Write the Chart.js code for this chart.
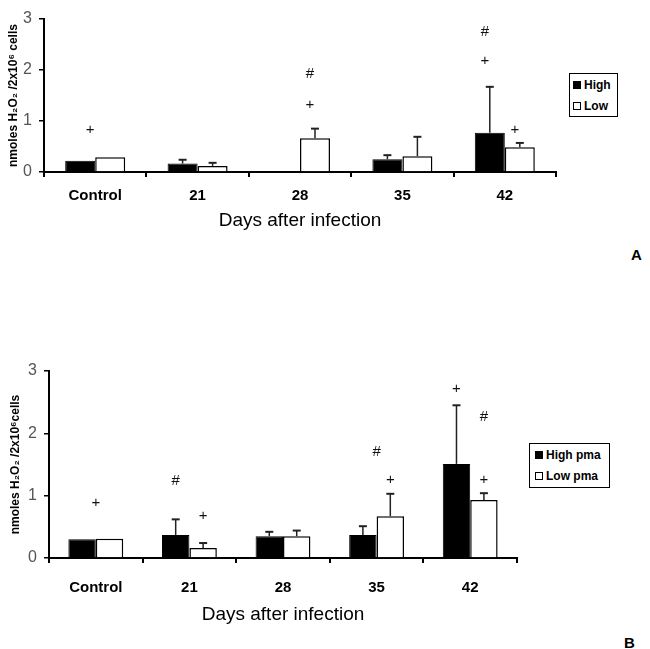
<!DOCTYPE html>
<html>
<head>
<meta charset="utf-8">
<script src="https://cdn.jsdelivr.net/npm/chart.js@4.4.0/dist/chart.umd.min.js"></script>
<style>
    body { margin: 0; background: #fff; width: 650px; height: 649px; position: relative; overflow: hidden; font-family: 'Liberation Sans', Arial, sans-serif; }
    canvas { position: absolute; left: 0; }
    .legend { position: absolute; border: 1px solid #000; background: #fff; font-size: 12px; font-weight: bold; color: #000; box-sizing: border-box; }
    .legend .row { height: 21px; display: flex; align-items: center; }
    .legend .sw { width: 8px; height: 8px; border: 1px solid #000; box-sizing: border-box; margin-right: 3px; }
    .panel { position: absolute; font-size: 15px; font-weight: bold; }
</style>
</head>
<body>
<canvas id="chartA" width="650" height="232" style="top:0"></canvas>
<canvas id="chartB" width="650" height="326" style="top:300px"></canvas>
<div class="legend" id="legendA" style="left:569px;top:73px;width:49px;height:44px;padding-left:3px"></div>
<div class="legend" id="legendB" style="left:529px;top:443px;width:81px;height:45px;padding-left:5px"></div>
<div class="panel" style="left:631px;top:246px">A</div>
<div class="panel" style="left:624px;top:634px">B</div>

<script>
// ---- data ----
const categories = ['Control', '21', '28', '35', '42'];
const yTicks = [0, 1, 2, 3];

// panel A
const seriesA = ['High', 'Low'];
const highA = [0.22, 0.165, null, 0.25, 0.77];
const highErrA = [0, 0.075, 0, 0.08, 0.90];
const lowA = [0.29, 0.12, 0.66, 0.31, 0.485];
const lowErrA = [0, 0.06, 0.19, 0.38, 0.085];
// significance marks: category index, bar (0 high, 1 low, -1 centre), value, symbol
const marksA = [
    { cat: 0, bar: -1, y: 0.83, s: '+' },
    { cat: 2, bar: 1, y: 1.31, s: '+' },
    { cat: 2, bar: 1, y: 1.92, s: '#' },
    { cat: 4, bar: 0, y: 2.17, s: '+' },
    { cat: 4, bar: 0, y: 2.75, s: '#' },
    { cat: 4, bar: 1, y: 0.83, s: '+' }
];

// panel B
const seriesB = ['High pma', 'Low pma'];
const highB = [0.30, 0.37, 0.35, 0.37, 1.51];
const highErrB = [0, 0.25, 0.07, 0.14, 0.94];
const lowB = [0.31, 0.16, 0.35, 0.67, 0.93];
const lowErrB = [0, 0.08, 0.09, 0.36, 0.11];
const marksB = [
    { cat: 0, bar: -1, y: 0.88, s: '+' },
    { cat: 1, bar: 0, y: 1.24, s: '#' },
    { cat: 1, bar: 1, y: 0.67, s: '+' },
    { cat: 3, bar: -1, y: 1.71, s: '#' },
    { cat: 3, bar: 1, y: 1.25, s: '+' },
    { cat: 4, bar: 0, y: 2.72, s: '+' },
    { cat: 4, bar: 1, y: 2.26, s: '#' },
    { cat: 4, bar: 1, y: 1.25, s: '+' }
];

// upward error bars with a cap
const errorBars = {
    id: 'errorBars',
    afterDatasetsDraw(chart) {
        const { ctx, scales: { y } } = chart;
        ctx.save();
        chart.data.datasets.forEach((ds, i) => {
            const meta = chart.getDatasetMeta(i);
            meta.data.forEach((bar, j) => {
                const v = ds.data[j], e = ds.errors[j];
                if (v == null || !e) return;
                const top = y.getPixelForValue(v + e);
                ctx.strokeStyle = '#222';
                ctx.lineWidth = 1.5;
                ctx.beginPath();
                ctx.moveTo(bar.x, bar.y);
                ctx.lineTo(bar.x, top);
                ctx.stroke();
                ctx.lineWidth = 2;
                ctx.beginPath();
                ctx.moveTo(bar.x - 4, top);
                ctx.lineTo(bar.x + 4, top);
                ctx.stroke();
            });
        });
        ctx.restore();
    }
};

// "+" and "#" marks
const sigMarks = {
    id: 'sigMarks',
    afterDatasetsDraw(chart, args, opts) {
        const { ctx, scales: { x, y } } = chart;
        ctx.save();
        ctx.fillStyle = '#111';
        ctx.font = '15px "Liberation Sans", Arial, sans-serif';
        ctx.textAlign = 'center';
        ctx.textBaseline = 'middle';
        opts.marks.forEach(m => {
            const px = m.bar < 0 ? x.getPixelForValue(m.cat)
                : chart.getDatasetMeta(m.bar).data[m.cat].x;
            ctx.fillText(m.s, px + opts.shift, y.getPixelForValue(m.y));
        });
        ctx.restore();
    }
};

function makeChart(canvasId, names, high, highErr, low, lowErr, marks, geo) {
    const ctx = document.getElementById(canvasId).getContext('2d');
    return new Chart(ctx, {
        type: 'bar',
        data: {
            labels: categories,
            datasets: [
                { label: names[0], data: high, errors: highErr, backgroundColor: '#000', borderColor: '#000', borderWidth: 1 },
                { label: names[1], data: low, errors: lowErr, backgroundColor: '#fff', borderColor: '#000', borderWidth: 1.5 }
            ]
        },
        options: {
            responsive: false,
            animation: false,
            categoryPercentage: 0.586,
            barPercentage: 1,
            layout: { padding: { left: 0, right: geo.right, top: geo.top, bottom: 0 } },
            plugins: {
                legend: { display: false },
                tooltip: { enabled: false },
                sigMarks: { marks: marks, shift: geo.shift }
            },
            scales: {
                x: {
                    offset: true,
                    grid: { offset: true, drawOnChartArea: false, tickLength: 5, color: '#000', lineWidth: 2 },
                    border: { color: '#000', width: 2 },
                    ticks: { color: '#000', font: { size: 15, weight: 'bold' }, padding: geo.tickPad },
                    title: { display: true, text: 'Days after infection', color: '#000', font: { size: 19 }, padding: 0 },
                    afterFit: s => { s.height = geo.xH; }
                },
                y: {
                    min: 0,
                    max: 3,
                    afterBuildTicks: s => { s.ticks = yTicks.map(v => ({ value: v })); },
                    grid: { drawOnChartArea: false, tickLength: 5, color: '#000', lineWidth: 1.5 },
                    border: { color: '#000', width: 2 },
                    ticks: { color: '#555', font: { family: '"Liberation Sans Narrow", "Arial Narrow", sans-serif', size: 16 }, padding: 7 },
                    title: { display: true, text: geo.yTitle, color: '#000', font: { size: 12, weight: 'bold' }, padding: { top: geo.yTitlePad } },
                    afterFit: s => { s.width = geo.left; }
                }
            }
        },
        plugins: [errorBars, sigMarks]
    });
}

function makeLegend(id, names) {
    const box = document.getElementById(id);
    names.forEach((n, i) => {
        const row = document.createElement('div');
        row.className = 'row';
        row.innerHTML = '<span class="sw" style="background:' + (i === 0 ? '#000' : '#fff') + '"></span>' + n;
        box.appendChild(row);
    });
}

makeChart('chartA', seriesA, highA, highErrA, lowA, lowErrA, marksA,
    { left: 44, right: 94, top: 19, xH: 60, tickPad: 10, shift: -5, yTitlePad: 6, yTitle: 'nmoles H₂O₂ /2x10⁶ cells' });
makeChart('chartB', seriesB, highB, highErrB, lowB, lowErrB, marksB,
    { left: 49, right: 133, top: 71, xH: 68, tickPad: 16, shift: 0, yTitlePad: 8, yTitle: 'nmoles H₂O₂ /2x10⁶cells' });
makeLegend('legendA', seriesA);
makeLegend('legendB', seriesB);
</script>
</body>
</html>
